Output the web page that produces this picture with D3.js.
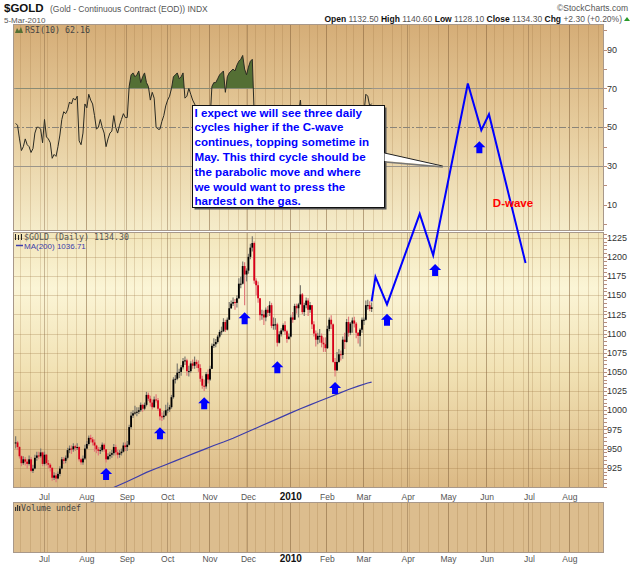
<!DOCTYPE html>
<html>
<head>
<meta charset="utf-8">
<title>$GOLD</title>
<script src="https://cdn.jsdelivr.net/npm/d3@7"></script>
<style>
  body { margin: 0; background: #fff; }
  svg { display: block; font-family: "Liberation Sans", Arial, sans-serif; }
</style>
</head>
<body>
<div id="chart"></div>
<script>
// exchange holidays, used to build the trading-day axis
var holidays = ["2009-07-03", "2009-09-07", "2009-11-26", "2009-12-25", "2010-01-01",
  "2010-01-18", "2010-02-15", "2010-04-02", "2010-05-31", "2010-07-05"];

// daily bars from 10-Jun-2009 to 5-Mar-2010
var firstBar = "2009-06-10";

var close = [
  958, 952, 940, 931, 936, 933, 930, 936, 921, 924, 938, 941, 940, 945, 930,                       // Jun
  942, 931, 929, 925, 912, 915, 911, 917, 924, 936, 934, 938, 948, 950, 949, 953, 951, 952, 936, 932, 937, 950, // Jul
  956, 964, 962, 958, 954, 949, 947, 948, 955, 949, 936, 940, 942, 944, 952, 945, 942, 944, 946, 954, 952,      // Aug
  955, 978, 993, 996, 997, 998, 1000, 1007, 1002, 1007, 1020, 1015, 1010, 1004, 1014, 1013, 1002, 992, 991, 993, 1000, // Sep
  1001, 1004, 1017, 1040, 1041, 1049, 1050, 1056, 1064, 1065, 1051, 1051, 1061, 1058, 1063, 1060, 1055, 1041, 1032, 1031, 1047, 1040, // Oct
  1054, 1084, 1086, 1089, 1096, 1102, 1103, 1115, 1105, 1118, 1133, 1139, 1141, 1140, 1146, 1165, 1165, 1188, 1177, 1182, // Nov
  1200, 1212, 1218, 1169, 1163, 1146, 1124, 1125, 1121, 1131, 1127, 1137, 1110, 1112, 1112, 1088, 1099, 1104, 1111, 1103, 1093, 1096, // Dec
  1121, 1118, 1136, 1133, 1138, 1151, 1128, 1137, 1143, 1131, 1137, 1112, 1100, 1092, 1097, 1097, 1088, 1086, 1081, // Jan
  1106, 1118, 1112, 1063, 1052, 1063, 1073, 1072, 1092, 1089, 1115, 1101, 1113, 1117, 1113, 1101, 1097, 1105, 1118, // Feb
  1118, 1137, 1137, 1132, 1134.3                                                                    // Mar
];

var high = [
  966, 960, 953, 941, 940, 939, 936, 941, 939, 929, 942, 946, 946, 950, 946,
  946, 943, 935, 931, 925, 919, 918, 920, 927, 939, 939, 941, 951, 954, 954, 957, 955, 957, 953, 938, 941, 955,
  960, 967, 968, 965, 962, 955, 952, 952, 958, 957, 949, 944, 946, 948, 956, 955, 948, 948, 950, 958, 958,
  960, 981, 998, 1000, 1006, 1004, 1004, 1010, 1008, 1010, 1024, 1023, 1019, 1014, 1018, 1021, 1016, 1003, 997, 999, 1007,
  1010, 1007, 1020, 1043, 1046, 1061, 1054, 1059, 1068, 1070, 1067, 1058, 1064, 1066, 1070, 1066, 1065, 1060, 1045, 1040, 1050, 1053,
  1058, 1087, 1094, 1093, 1098, 1105, 1109, 1120, 1118, 1121, 1141, 1143, 1147, 1145, 1150, 1172, 1174, 1194, 1193, 1185,
  1204, 1217, 1227, 1220, 1172, 1168, 1146, 1131, 1130, 1134, 1136, 1142, 1140, 1121, 1120, 1114, 1103, 1107, 1113, 1116, 1105, 1100,
  1124, 1128, 1139, 1139, 1140, 1163, 1153, 1140, 1147, 1146, 1141, 1137, 1116, 1104, 1101, 1106, 1100, 1095, 1095,
  1110, 1121, 1124, 1113, 1068, 1076, 1080, 1078, 1096, 1101, 1119, 1122, 1115, 1121, 1122, 1115, 1102, 1107, 1121,
  1121, 1143, 1144, 1142, 1140.6
];

var low = [
  950, 948, 937, 927, 929, 928, 924, 928, 919, 918, 923, 934, 936, 938, 927,
  928, 928, 924, 920, 908, 909, 906, 910, 914, 923, 930, 931, 936, 944, 943, 946, 947, 948, 933, 929, 929, 935,
  949, 954, 958, 954, 946, 944, 941, 943, 946, 946, 932, 935, 936, 938, 941, 941, 937, 938, 941, 945, 947,
  947, 954, 976, 990, 994, 992, 995, 998, 998, 1000, 1005, 1012, 1005, 1001, 1003, 1010, 999, 987, 986, 988, 992,
  996, 998, 1002, 1015, 1035, 1039, 1042, 1045, 1053, 1059, 1045, 1044, 1049, 1054, 1054, 1055, 1050, 1037, 1028, 1025, 1028, 1035,
  1038, 1054, 1081, 1082, 1087, 1094, 1098, 1102, 1102, 1104, 1118, 1132, 1136, 1131, 1134, 1145, 1159, 1164, 1137, 1168,
  1178, 1197, 1207, 1165, 1150, 1140, 1117, 1118, 1111, 1116, 1122, 1123, 1107, 1105, 1105, 1083, 1087, 1096, 1102, 1098, 1088, 1092,
  1095, 1114, 1118, 1126, 1121, 1138, 1125, 1123, 1133, 1123, 1127, 1106, 1096, 1083, 1086, 1088, 1082, 1076, 1076,
  1080, 1103, 1106, 1062, 1044, 1051, 1062, 1065, 1067, 1080, 1088, 1096, 1098, 1101, 1108, 1094, 1087, 1083, 1101,
  1111, 1117, 1131, 1129, 1128.1
];

var rsi = [
  52, 51, 44, 38, 40, 44, 41, 40, 37, 39, 47, 50, 50, 49, 42,
  54, 45, 44, 42, 34, 36, 35, 40, 46, 54, 58, 57, 59, 63, 62, 65, 64, 66, 43, 41, 47, 62,
  60, 67, 64, 62, 56, 49, 50, 54, 50, 47, 40, 44, 47, 48, 56, 50, 47, 51, 54, 57, 55,
  55, 71, 77, 78, 76, 77, 79, 73, 76, 78, 73, 71, 64, 68, 65, 50, 49, 49, 53, 56, 61,
  64, 66, 70, 76, 77, 78, 75, 76, 78, 65, 66, 70, 67, 64, 62, 60, 55, 48, 44, 43, 52, 48,
  53, 71, 73, 73, 75, 77, 78, 79, 68, 76, 78, 79, 80, 79, 82, 84, 85, 87, 80, 77,
  81, 84, 85, 56, 54, 48, 41, 42, 41, 45, 44, 48, 40, 41, 41, 35, 40, 42, 45, 42, 39, 41,
  50, 49, 56, 55, 57, 64, 52, 56, 58, 52, 55, 45, 41, 38, 41, 41, 38, 37, 35,
  47, 52, 50, 34, 31, 36, 40, 40, 48, 47, 56, 51, 55, 56, 55, 50, 49, 52, 57,
  57, 67, 66, 61, 62.16
];

// 200-day moving average, read weekly
var maDates = ["2009-08-18", "2009-08-25", "2009-09-01", "2009-09-09", "2009-09-16", "2009-09-23",
  "2009-09-30", "2009-10-07", "2009-10-14", "2009-10-21", "2009-10-28", "2009-11-04", "2009-11-11",
  "2009-11-18", "2009-11-25", "2009-12-03", "2009-12-10", "2009-12-17", "2009-12-24", "2010-01-04",
  "2010-01-11", "2010-01-19", "2010-01-26", "2010-02-02", "2010-02-09", "2010-02-17", "2010-02-24",
  "2010-03-03", "2010-03-05"];
var maValues = [896, 901.5, 907, 913, 919, 924, 929, 934, 939, 944, 949, 954, 958.5,
  963.5, 969, 974.5, 980, 985.5, 991, 996.5, 1002, 1007, 1012, 1017, 1022, 1027, 1031.5,
  1035.5, 1036.71];

// hand-drawn projection
var projDates = ["2010-03-05", "2010-03-09", "2010-03-17", "2010-04-12", "2010-04-21",
  "2010-05-17", "2010-05-26", "2010-06-02", "2010-06-29"];
var projValues = [1142, 1174, 1138, 1256, 1202, 1426, 1365, 1386, 1192];

// cycle-low arrows
var arrowDates = ["2009-08-17", "2009-09-25", "2009-10-28", "2009-11-27", "2009-12-22",
  "2010-02-05", "2010-03-17", "2010-04-22", "2010-05-25"];
var arrowValues = [917, 970, 1009, 1120, 1056, 1029, 1118, 1183, 1343];

var monthStarts = ["2009-07", "2009-08", "2009-09", "2009-10", "2009-11", "2009-12", "2010-01",
  "2010-02", "2010-03", "2010-04", "2010-05", "2010-06", "2010-07", "2010-08"];
var monthLabels = ["Jul", "Aug", "Sep", "Oct", "Nov", "Dec", "2010", "Feb", "Mar", "Apr",
  "May", "Jun", "Jul", "Aug"];

var priceTicks = [925, 950, 975, 1000, 1025, 1050, 1075, 1100, 1125, 1150, 1175, 1200, 1225];
var rsiTicks = [10, 30, 50, 70, 90];

var calloutLines = ["I expect we will see three daily", "cycles higher if the C-wave",
  "continues, topping sometime in", "May. This third cycle should be",
  "the parabolic move and where", "we would want to press the", "hardest on the gas."];

// ---------------------------------------------------------------------------

var W = 640, H = 566;
var L = 13, R = 604;
var rsiTop = 24, rsiBot = 231, pTop = 232, pBot = 488, vTop = 502, vBot = 553;

var fmt = d3.utcFormat("%Y-%m-%d"), parse = d3.utcParse("%Y-%m-%d");
var days = d3.utcDay.range(parse("2009-06-08"), parse("2010-09-01")).filter(function(d) {
  var w = d.getUTCDay();
  return w > 0 && w < 6 && holidays.indexOf(fmt(d)) < 0;
});
var dayIdx = {};
days.forEach(function(d, i) { dayIdx[fmt(d)] = i; });

var x = d3.scaleLinear()
    .domain([dayIdx["2009-07-01"], dayIdx["2010-08-02"]])
    .range([44.5, 569.8]);
var yP = d3.scaleLinear().domain([898.6, 1232.4]).range([pBot, pTop]);
var yR = d3.scaleLinear().domain([-3.45, 103.2]).range([rsiBot, rsiTop]);

var start = dayIdx[firstBar];
var bars = close.map(function(c, k) {
  var prev = k === 0 ? c : close[k - 1];
  return { i: start + k, o: prev, c: c, h: high[k], l: low[k], up: c >= prev };
});

var svg = d3.select("#chart").append("svg")
    .attr("width", W)
    .attr("height", H);

var defs = svg.append("defs");

function gradient(id, stops) {
  var g = defs.append("linearGradient").attr("id", id)
      .attr("x1", 0).attr("y1", 0).attr("x2", 0).attr("y2", 1);
  stops.forEach(function(s) {
    g.append("stop").attr("offset", s[0]).attr("stop-color", s[1]);
  });
}
gradient("gRsi", [[0, "#d5ad77"], [0.5, "#e6cc9d"], [1, "#f5ecca"]]);
gradient("gPrice", [[0, "#f2e5ba"], [0.22, "#fbf5d6"], [0.55, "#f1e1b3"], [1, "#dbb985"]]);

function clip(id, y0, y1) {
  defs.append("clipPath").attr("id", id)
    .append("rect").attr("x", L).attr("y", y0).attr("width", R - L).attr("height", y1 - y0);
}
clip("cRsi", rsiTop, rsiBot);
clip("cPrice", pTop, pBot);
clip("cAll", rsiTop, pBot);
defs.append("clipPath").attr("id", "cRsiHigh")
  .append("rect").attr("x", L).attr("y", rsiTop).attr("width", R - L).attr("height", yR(70) - rsiTop);
defs.append("clipPath").attr("id", "cAllX")
  .append("rect").attr("x", L + 1).attr("y", 0).attr("width", R - L - 2).attr("height", H);

// panels
svg.append("rect").attr("x", L).attr("y", rsiTop).attr("width", R - L).attr("height", rsiBot - rsiTop)
    .style("fill", "url(#gRsi)");
svg.append("rect").attr("x", L).attr("y", pTop).attr("width", R - L).attr("height", pBot - pTop)
    .style("fill", "url(#gPrice)");
svg.append("rect").attr("x", L).attr("y", vTop).attr("width", R - L).attr("height", vBot - vTop)
    .style("fill", "#dcbd8e");

// vertical grid: weeks light, months darker
var weekStarts = [], monthIdx = [];
days.forEach(function(d, i) {
  if (i === 0) return;
  if (+d3.utcMonday.floor(d) !== +d3.utcMonday.floor(days[i - 1])) weekStarts.push(i);
});
monthStarts.forEach(function(m) {
  for (var i = 0; i < days.length; i++) {
    if (fmt(days[i]).slice(0, 7) === m) { monthIdx.push(i); break; }
  }
});

function vgrid(y0, y1) {
  var g = svg.append("g").attr("clip-path", "url(#cAllX)");
  g.selectAll("line.wk").data(weekStarts).enter().append("line")
      .attr("x1", function(i) { return Math.round(x(i) - 1) + 0.5; })
      .attr("x2", function(i) { return Math.round(x(i) - 1) + 0.5; })
      .attr("y1", y0).attr("y2", y1)
      .style("stroke", "rgba(150,110,60,0.22)");
  g.selectAll("line.mo").data(monthIdx).enter().append("line")
      .attr("x1", function(i) { return Math.round(x(i) - 1) + 0.5; })
      .attr("x2", function(i) { return Math.round(x(i) - 1) + 0.5; })
      .attr("y1", y0).attr("y2", y1)
      .style("stroke", "rgba(120,90,55,0.38)");
}
vgrid(rsiTop, rsiBot);
vgrid(pTop, pBot);
vgrid(vTop, vBot);

// horizontal price grid
svg.append("g").selectAll("line").data(priceTicks).enter().append("line")
    .attr("x1", L).attr("x2", R)
    .attr("y1", function(d) { return Math.round(yP(d)) + 0.5; })
    .attr("y2", function(d) { return Math.round(yP(d)) + 0.5; })
    .style("stroke", "rgba(150,110,60,0.28)");

// RSI reference lines
[30, 70].forEach(function(v) {
  svg.append("line").attr("x1", L).attr("x2", R)
      .attr("y1", Math.round(yR(v)) + 0.5).attr("y2", Math.round(yR(v)) + 0.5)
      .style("stroke", "#9b958a");
});
svg.append("line").attr("x1", L).attr("x2", R)
    .attr("y1", Math.round(yR(50)) + 0.5).attr("y2", Math.round(yR(50)) + 0.5)
    .style("stroke", "#8a8478").style("stroke-dasharray", "7,2,2,2");

// RSI fill above 70 and line
var rsiPts = rsi.map(function(v, k) { return { i: start + k, v: v }; });
svg.append("path").datum(rsiPts)
    .attr("clip-path", "url(#cRsiHigh)")
    .attr("d", d3.area()
      .x(function(d) { return x(d.i); })
      .y0(yR(70))
      .y1(function(d) { return yR(d.v); }))
    .style("fill", "#546f34");
svg.append("path").datum(rsiPts)
    .attr("clip-path", "url(#cRsi)")
    .attr("d", d3.line()
      .x(function(d) { return x(d.i); })
      .y(function(d) { return yR(d.v); }))
    .style("fill", "none").style("stroke", "#2a2a22").style("stroke-width", 1);

// candles
var cg = svg.append("g").attr("clip-path", "url(#cPrice)");
cg.selectAll("line").data(bars).enter().append("line")
    .attr("x1", function(d) { return x(d.i); })
    .attr("x2", function(d) { return x(d.i); })
    .attr("y1", function(d) { return yP(d.h); })
    .attr("y2", function(d) { return yP(d.l); })
    .style("stroke", function(d) { return d.up ? "#7d7a70" : "#e07a7a"; })
    .style("stroke-width", 1.2);
cg.selectAll("rect").data(bars).enter().append("rect")
    .attr("x", function(d) { return x(d.i) - 0.9; })
    .attr("width", 1.8)
    .attr("y", function(d) { return yP(Math.max(d.o, d.c)); })
    .attr("height", function(d) { return Math.max(1, Math.abs(yP(d.o) - yP(d.c))); })
    .style("fill", function(d) { return d.up ? "#000" : "#d8001a"; });

// MA(200)
svg.append("path")
    .datum(maDates.map(function(d, k) { return { i: dayIdx[d], v: maValues[k] }; }))
    .attr("clip-path", "url(#cPrice)")
    .attr("d", d3.line()
      .x(function(d) { return x(d.i); })
      .y(function(d) { return yP(d.v); }))
    .style("fill", "none").style("stroke", "#3c3caa").style("stroke-width", 1.2);

// panel borders
[[rsiTop, rsiBot], [pTop, pBot], [vTop, vBot]].forEach(function(p) {
  svg.append("rect").attr("x", L + 0.5).attr("y", p[0] + 0.5)
      .attr("width", R - L - 1).attr("height", p[1] - p[0] - 1)
      .style("fill", "none").style("stroke", "#a8988a");
});

// right axes
var axisG = svg.append("g").style("font-size", "9px").style("fill", "#333");
axisG.selectAll("text.p").data(priceTicks).enter().append("text")
    .attr("x", R + 3).attr("y", function(d) { return yP(d); }).attr("dy", "0.35em")
    .text(function(d) { return d; });
axisG.selectAll("text.r").data(rsiTicks).enter().append("text")
    .attr("x", R + 3).attr("y", function(d) { return yR(d); }).attr("dy", "0.35em")
    .text(function(d) { return d; });
svg.append("g").selectAll("line").data(d3.range(900, 1231, 5)).enter().append("line")
    .attr("x1", R).attr("x2", R + 3)
    .attr("y1", function(d) { return Math.round(yP(d)) + 0.5; })
    .attr("y2", function(d) { return Math.round(yP(d)) + 0.5; })
    .style("stroke", "#b98d7c");
svg.append("g").selectAll("line").data(d3.range(0, 101, 10)).enter().append("line")
    .attr("x1", R).attr("x2", R + 3)
    .attr("y1", function(d) { return Math.round(yR(d)) + 0.5; })
    .attr("y2", function(d) { return Math.round(yR(d)) + 0.5; })
    .style("stroke", "#b98d7c");

// month labels under price and volume panels
[pBot + 12, vBot + 9].forEach(function(yy) {
  svg.append("g").selectAll("text").data(monthIdx).enter().append("text")
      .attr("x", function(i) { return x(i); })
      .attr("y", yy)
      .attr("text-anchor", "middle")
      .style("font-size", function(i, k) { return monthLabels[k] === "2010" ? "10px" : "8.5px"; })
      .style("font-weight", function(i, k) { return monthLabels[k] === "2010" ? "bold" : "normal"; })
      .style("fill", function(i, k) { return monthLabels[k] === "2010" ? "#111" : "#555"; })
      .text(function(i, k) { return monthLabels[k]; });
});

// header
svg.append("text").attr("x", 4).attr("y", 12)
    .style("font-size", "11.5px").style("font-weight", "bold").style("fill", "#111").text("$GOLD");
svg.append("text").attr("x", 50).attr("y", 12)
    .style("font-size", "8.5px").style("fill", "#555").text("(Gold - Continuous Contract (EOD)) INDX");
svg.append("text").attr("x", 628).attr("y", 11).attr("text-anchor", "end")
    .style("font-size", "8.5px").style("fill", "#555").text("\u00a9StockCharts.com");
svg.append("text").attr("x", 4).attr("y", 22.5)
    .style("font-size", "8px").style("fill", "#555").text("5-Mar-2010");
var ohlc = svg.append("text").attr("x", 622).attr("y", 22).attr("text-anchor", "end")
    .style("font-size", "8.5px").style("fill", "#444");
[["Open ", true], ["1132.50 ", false], ["High ", true], ["1140.60 ", false], ["Low ", true],
 ["1128.10 ", false], ["Close ", true], ["1134.30 ", false], ["Chg ", true], ["+2.30 (+0.20%)", false]]
  .forEach(function(t) {
    ohlc.append("tspan").style("font-weight", t[1] ? "bold" : "normal")
        .style("fill", t[1] ? "#111" : "#555").text(t[0]);
  });
svg.append("path").attr("d", "M624,21 L627,17 L630,21 Z").style("fill", "#2a9a2a");

// panel legends
svg.append("path").attr("d", "M15,33 L17,28 L19,31 L21,27 L23,33 Z").style("fill", "#546f34");
svg.append("text").attr("x", 25).attr("y", 33)
    .style("font-family", "'DejaVu Sans Mono', monospace").style("font-size", "8.3px")
    .style("fill", "#444").text("RSI(10) 62.16");
[15.5, 18.5, 21.5].forEach(function(xx, k) {
  svg.append("line").attr("x1", xx).attr("x2", xx).attr("y1", 234 + k % 2).attr("y2", 240)
      .style("stroke", "#222");
});
svg.append("text").attr("x", 24).attr("y", 240)
    .style("font-family", "'DejaVu Sans Mono', monospace").style("font-size", "8.3px")
    .style("fill", "#555").text("$GOLD (Daily) 1134.30");
svg.append("line").attr("x1", 16).attr("x2", 23).attr("y1", 245.5).attr("y2", 245.5)
    .style("stroke", "#3c3caa").style("stroke-width", 1.5);
svg.append("text").attr("x", 24).attr("y", 248.5)
    .style("font-size", "8px").style("fill", "#3c3caa").text("MA(200) 1036.71");
[[15, 4], [17, 6], [19, 5]].forEach(function(b) {
  svg.append("rect").attr("x", b[0]).attr("y", 511 - b[1]).attr("width", 1.2).attr("height", b[1])
      .style("fill", "#333");
});
svg.append("text").attr("x", 21).attr("y", 511)
    .style("font-family", "'DejaVu Sans Mono', monospace").style("font-size", "8.3px")
    .style("fill", "#444").text("Volume undef");

// callout box
var bx = 192.5, by = 105.5, bw = 192, bh = 102;
var tip = { i: dayIdx["2010-04-28"], v: 30 };
svg.append("rect").attr("x", bx + 2).attr("y", by + 2).attr("width", bw).attr("height", bh)
    .style("fill", "#555");
svg.append("rect").attr("x", bx).attr("y", by).attr("width", bw).attr("height", bh)
    .style("fill", "#fff").style("stroke", "#111");
svg.append("path")
    .attr("d", "M" + (bx + bw) + "," + 153 + " L" + x(tip.i) + "," + yR(tip.v) + " L" + (bx + bw) + "," + 161 + " Z")
    .style("fill", "#fff");
svg.append("line").attr("x1", bx + bw).attr("y1", 153).attr("x2", x(tip.i)).attr("y2", yR(tip.v))
    .style("stroke", "#222");
svg.append("line").attr("x1", bx + bw + 1).attr("y1", 162).attr("x2", x(tip.i)).attr("y2", yR(tip.v) + 1)
    .style("stroke", "#777").style("stroke-width", 1.5);
svg.append("text").attr("x", bx + 2).attr("y", by + 11)
    .style("font-size", "11.6px").style("font-weight", "bold").style("fill", "#0000ff")
  .selectAll("tspan").data(calloutLines).enter().append("tspan")
    .attr("x", bx + 2).attr("dy", function(d, k) { return k === 0 ? 0 : 14.8; })
    .text(function(d) { return d; });

// projection, arrows and label
svg.append("path")
    .datum(projDates.map(function(d, k) { return { i: dayIdx[d], v: projValues[k] }; }))
    .attr("clip-path", "url(#cAll)")
    .attr("d", d3.line()
      .x(function(d) { return x(d.i); })
      .y(function(d) { return yP(d.v); }))
    .style("fill", "none").style("stroke", "#0000ff").style("stroke-width", 2)
    .style("stroke-linejoin", "miter");

svg.append("g").selectAll("path")
    .data(arrowDates.map(function(d, k) { return { i: dayIdx[d], v: arrowValues[k] }; }))
    .enter().append("path")
    .attr("transform", function(d) { return "translate(" + x(d.i) + "," + yP(d.v) + ")"; })
    .attr("d", "M0,-6 L6,0 L3,0 L3,6 L-3,6 L-3,0 L-6,0 Z")
    .style("fill", "#0000ff");

var dwave = { i: dayIdx["2010-06-04"], v: 1265 };
svg.append("text").attr("x", x(dwave.i)).attr("y", yP(dwave.v))
    .style("font-size", "11.5px").style("font-weight", "bold").style("fill", "#ff0000")
    .text("D-wave");
</script>
</body>
</html>
